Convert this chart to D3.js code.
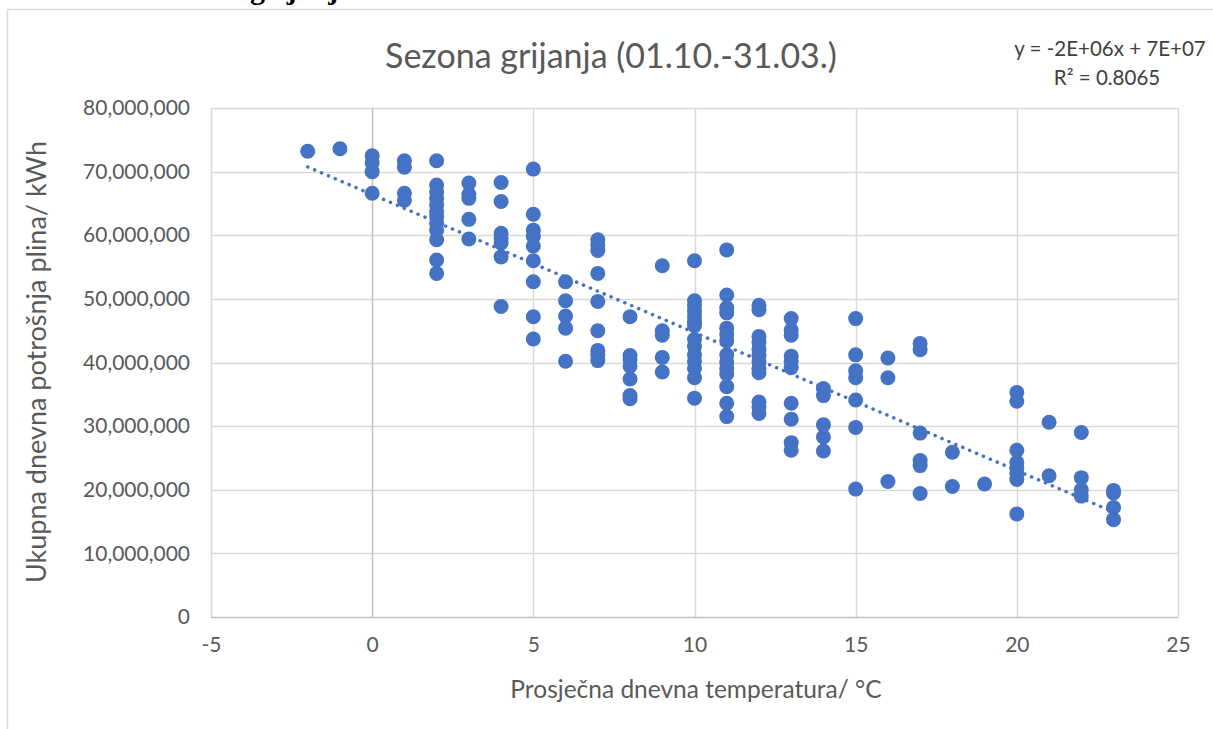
<!DOCTYPE html>
<html>
<head>
<meta charset="utf-8">
<script src="https://cdn.jsdelivr.net/npm/d3@7"></script>
<style>
  body { margin: 0; background: #fff; }
  svg { display: block; font-family: Lato, 'Noto Sans', sans-serif; }
</style>
</head>
<body>
<svg width="1213" height="729"></svg>
<script>
const TITLE = 'Sezona grijanja (01.10.-31.03.)'
const X_LABEL = 'Prosječna dnevna temperatura/ °C'
const Y_LABEL = 'Ukupna dnevna potrošnja plina/ kWh'
const EQUATION = 'y = -2E+06x + 7E+07'
const R_SQUARED = 'R² = 0.8065'

const X_TICKS = [-5, 0, 5, 10, 15, 20, 25]
const Y_TICKS = [0, 10e6, 20e6, 30e6, 40e6, 50e6, 60e6, 70e6, 80e6]

// average daily temperature (°C)
const TEMPERATURES = [-2, -1, 0, 1, 2, 3, 4, 5, 6, 7, 8, 9, 10, 11, 12, 13, 14, 15, 16, 17, 18, 19, 20, 21, 22, 23]

// total daily gas consumption, millions of kWh, one list per temperature
const CONSUMPTION = [
  [73.2],
  [73.6],
  [72.5, 71.4, 70.0, 66.6],
  [71.7, 70.7, 66.6, 65.5],
  [71.7, 67.9, 66.8, 65.8, 64.8, 63.7, 62.9, 61.9, 60.8, 59.3, 56.1, 54.0],
  [68.2, 66.4, 65.8, 62.5, 59.4],
  [68.3, 65.3, 60.3, 59.5, 58.8, 56.6, 48.8],
  [70.4, 63.3, 60.8, 59.8, 58.3, 56.0, 52.7, 47.2, 43.7],
  [52.7, 49.7, 47.3, 45.4, 40.2],
  [59.3, 58.5, 57.6, 54.0, 49.6, 45.0, 41.9, 41.2, 40.3],
  [47.2, 41.1, 40.4, 39.4, 37.4, 34.8, 34.3],
  [55.2, 45.0, 44.3, 40.8, 38.5],
  [56.0, 49.7, 48.9, 48.0, 47.2, 46.4, 45.8, 43.6, 42.5, 41.2, 40.2, 39.1, 37.6, 34.4],
  [57.7, 50.6, 48.6, 47.8, 45.4, 44.4, 43.4, 41.2, 40.0, 39.0, 38.2, 36.2, 33.6, 31.5],
  [49.0, 48.3, 44.1, 43.2, 42.1, 41.1, 40.1, 39.1, 38.4, 33.8, 33.0, 32.0],
  [46.9, 45.1, 44.3, 41.0, 40.2, 39.2, 33.6, 31.1, 27.4, 26.2],
  [35.9, 34.8, 30.2, 28.3, 26.1],
  [46.9, 41.2, 38.7, 37.6, 34.1, 29.8, 20.1],
  [40.7, 37.6, 21.3],
  [43.0, 42.0, 28.9, 24.6, 23.8, 19.4],
  [25.9, 20.5],
  [20.9],
  [35.3, 33.9, 26.2, 24.3, 23.4, 22.6, 21.6, 16.2],
  [30.6, 22.2],
  [29.0, 21.9, 20.0, 19.0],
  [19.9, 19.5, 17.2, 15.3]
]

const BLUE = '#4472c4'
const TEXT = '#595959'
const GRID = '#d9d9d9'
const AXIS = '#bfbfbf'

const margin = { top: 108, right: 35, bottom: 112, left: 211 }
const width = 1213
const height = 729

const points = TEMPERATURES.flatMap((t, i) => CONSUMPTION[i].map(v => ({ x: t, y: v * 1e6 })))

// least squares trend line, like Excel's linear trendline
const linearFit = (data) => {
  const mx = d3.mean(data, d => d.x)
  const my = d3.mean(data, d => d.y)
  const sxy = d3.sum(data, d => (d.x - mx) * (d.y - my))
  const sxx = d3.sum(data, d => (d.x - mx) ** 2)
  const slope = sxy / sxx
  return { slope, intercept: my - slope * mx }
}

const svg = d3.select('svg')

const x = d3.scaleLinear().domain([-5, 25]).range([margin.left, width - margin.right])
const y = d3.scaleLinear().domain([0, 80e6]).range([height - margin.bottom, margin.top])

// outer chart frame, runs off the bottom and right of the picture
svg.append('rect')
  .attr('x', 7.5).attr('y', 9.5)
  .attr('width', 1220).attr('height', 740)
  .attr('fill', '#fff')
  .attr('stroke', GRID)
  .attr('stroke-width', 1.5)

// heading of the page above the chart, cut off at the top edge
svg.append('text')
  .attr('x', 250).attr('y', -1)
  .attr('font-family', "'Liberation Serif', serif")
  .attr('font-weight', 'bold')
  .attr('font-size', 30)
  .attr('fill', '#000')
  .text('grijanja')

svg.append('g')
  .attr('class', 'grid-y')
  .selectAll('line')
  .data(Y_TICKS.filter(d => d > 0))
  .enter().append('line')
  .attr('x1', x(-5)).attr('x2', x(25))
  .attr('y1', d => Math.round(y(d)) + 0.5)
  .attr('y2', d => Math.round(y(d)) + 0.5)
  .attr('stroke', GRID)
  .attr('stroke-width', 1.5)

svg.append('g')
  .attr('class', 'grid-x')
  .selectAll('line')
  .data(X_TICKS.filter(d => d !== 0))
  .enter().append('line')
  .attr('x1', d => Math.round(x(d)) + 0.5)
  .attr('x2', d => Math.round(x(d)) + 0.5)
  .attr('y1', y(80e6)).attr('y2', y(0))
  .attr('stroke', GRID)
  .attr('stroke-width', 1.5)

// axis lines cross at zero
svg.append('line')
  .attr('x1', Math.round(x(0)) + 0.5).attr('x2', Math.round(x(0)) + 0.5)
  .attr('y1', y(80e6)).attr('y2', y(0))
  .attr('stroke', AXIS)
  .attr('stroke-width', 1.5)

svg.append('line')
  .attr('x1', x(-5)).attr('x2', x(25))
  .attr('y1', Math.round(y(0)) + 0.5).attr('y2', Math.round(y(0)) + 0.5)
  .attr('stroke', AXIS)
  .attr('stroke-width', 1.5)

const yAxis = svg.append('g')
  .attr('transform', `translate(${margin.left - 21},0)`)
  .call(d3.axisLeft(y).tickValues(Y_TICKS).tickSize(0).tickPadding(0).tickFormat(d3.format(',')))
yAxis.select('.domain').remove()
yAxis.selectAll('text')
  .attr('font-family', 'Lato, sans-serif')
  .attr('font-size', 21)
  .attr('fill', TEXT)

// plain hyphen for negatives, as in the original
const xAxis = svg.append('g')
  .attr('transform', `translate(0,${height - margin.bottom + 20})`)
  .call(d3.axisBottom(x).tickValues(X_TICKS).tickSize(0).tickPadding(0).tickFormat(d => String(d)))
xAxis.select('.domain').remove()
xAxis.selectAll('text')
  .attr('font-family', 'Lato, sans-serif')
  .attr('font-size', 21)
  .attr('fill', TEXT)

svg.append('g')
  .attr('class', 'points')
  .selectAll('circle')
  .data(points)
  .enter().append('circle')
  .attr('cx', d => x(d.x))
  .attr('cy', d => y(d.y))
  .attr('r', 7.5)
  .attr('fill', BLUE)

const fit = linearFit(points)
const [xMin, xMax] = d3.extent(points, d => d.x)

svg.append('line')
  .attr('class', 'trend')
  .attr('x1', x(xMin)).attr('y1', y(fit.intercept + fit.slope * xMin))
  .attr('x2', x(xMax)).attr('y2', y(fit.intercept + fit.slope * xMax))
  .attr('stroke', BLUE)
  .attr('stroke-width', 3.5)
  .attr('stroke-linecap', 'round')
  .attr('stroke-dasharray', '0.1 7.4')

svg.append('text')
  .attr('x', 611).attr('y', 68)
  .attr('text-anchor', 'middle')
  .attr('font-size', 34)
  .attr('fill', TEXT)
  .text(TITLE)

svg.append('text')
  .attr('x', 1110).attr('y', 56)
  .attr('text-anchor', 'middle')
  .attr('font-size', 20.5)
  .attr('fill', '#404040')
  .text(EQUATION)

svg.append('text')
  .attr('x', 1107).attr('y', 85)
  .attr('text-anchor', 'middle')
  .attr('font-size', 20.5)
  .attr('fill', '#404040')
  .text(R_SQUARED)

svg.append('text')
  .attr('x', 696).attr('y', 698)
  .attr('text-anchor', 'middle')
  .attr('font-size', 24.5)
  .attr('fill', TEXT)
  .text(X_LABEL)

svg.append('text')
  .attr('transform', 'translate(46,362) rotate(-90)')
  .attr('text-anchor', 'middle')
  .attr('font-size', 27)
  .attr('fill', TEXT)
  .text(Y_LABEL)
</script>
</body>
</html>
